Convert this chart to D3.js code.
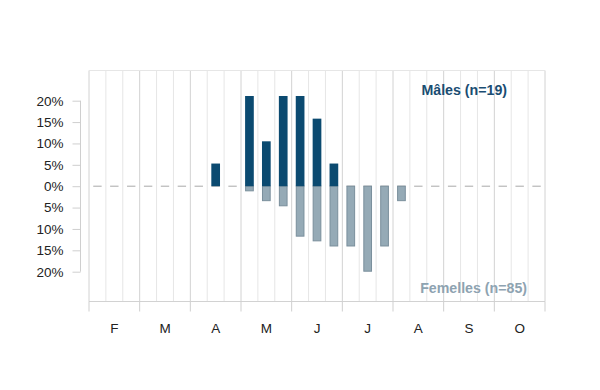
<!DOCTYPE html>
<html>
<head>
<meta charset="utf-8">
<script src="https://cdn.jsdelivr.net/npm/d3@7"></script>
<style>
  body { margin: 0; background: #fff; }
  text { font-family: "Liberation Sans", Arial, sans-serif; }
</style>
</head>
<body>
<svg id="chart" width="600" height="390"></svg>
<script>
// month labels (3 ten-day periods each)
const months = ['F', 'M', 'A', 'M', 'J', 'J', 'A', 'S', 'O'];
// % per ten-day period, Feb d1 .. Oct d3
const males = [0, 0, 0, 0, 0, 0, 0, 5.3, 0, 21.1, 10.5, 21.1, 21.1, 15.8, 5.3,
  0, 0, 0, 0, 0, 0, 0, 0, 0, 0, 0, 0];
const females = [0, 0, 0, 0, 0, 0, 0, 0, 0, 1.2, 3.5, 4.7, 11.8, 12.9, 14.1,
  14.1, 20.0, 14.1, 3.5, 0, 0, 0, 0, 0, 0, 0, 0];
const yTicks = [20, 15, 10, 5, 0, -5, -10, -15, -20];
const yTickLabels = ['20%', '15%', '10%', '5%', '0%', '5%', '10%', '15%', '20%'];

const svg = d3.select('#chart');
const plotTop = 70.5, plotBottom = 301.5;

const x = d3.scaleLinear().domain([0, males.length]).range([89, 545]);
const y = d3.scaleLinear().domain([-20, 20]).range([271.7, 100.7]);
const barW = 8.7;

// grid
const grid = svg.append('g').attr('class', 'grid');
grid.selectAll('line.v')
  .data(d3.range(males.length + 1))
  .join('line')
  .attr('x1', d => x(d)).attr('x2', d => x(d))
  .attr('y1', plotTop).attr('y2', plotBottom)
  .attr('stroke', d => d % 3 === 0 ? '#d2d2d2' : '#e6e6e6')
  .attr('stroke-width', 1);
grid.append('line')
  .attr('x1', x(0)).attr('x2', x(males.length))
  .attr('y1', plotTop).attr('y2', plotTop)
  .attr('stroke', '#e6e6e6');
grid.append('line')
  .attr('x1', x(0)).attr('x2', x(males.length))
  .attr('y1', plotBottom).attr('y2', plotBottom)
  .attr('stroke', '#d2d2d2');

// month ticks below the plot
const mTicks = svg.append('g').attr('class', 'axis--x');
mTicks.selectAll('line')
  .data(d3.range(months.length + 1))
  .join('line')
  .attr('x1', d => x(d * 3)).attr('x2', d => x(d * 3))
  .attr('y1', plotBottom).attr('y2', 311.5)
  .attr('stroke', '#cfcfcf');
mTicks.selectAll('text')
  .data(months)
  .join('text')
  .attr('x', (d, i) => x(i * 3 + 1.5))
  .attr('y', 333)
  .attr('text-anchor', 'middle')
  .attr('font-size', 13.5)
  .attr('fill', '#222')
  .text(d => d);

// y axis
const yAxis = d3.axisLeft(y)
  .tickValues(yTicks)
  .tickSize(8)
  .tickPadding(9)
  .tickFormat((d, i) => yTickLabels[i]);
const ga = svg.append('g').attr('class', 'axis--y')
  .attr('transform', 'translate(80.5,0)')
  .call(yAxis);
ga.select('.domain').attr('stroke', '#cfcfcf').attr('d', `M0,${y(20)}V${y(-20)}`);
ga.selectAll('.tick line').attr('stroke', '#cfcfcf');
ga.selectAll('.tick text')
  .attr('font-family', '"Liberation Sans", Arial, sans-serif')
  .attr('font-size', 13.5)
  .attr('fill', '#222');

// zero dashes
svg.append('g').selectAll('line')
  .data(d3.range(males.length))
  .join('line')
  .attr('x1', d => x(d + 0.5) - 4.2).attr('x2', d => x(d + 0.5) + 4.2)
  .attr('y1', y(0)).attr('y2', y(0))
  .attr('stroke', '#a8a8a8');

// females (down)
svg.append('g').selectAll('rect')
  .data(females.map((v, i) => ({ v, i })).filter(d => d.v > 0))
  .join('rect')
  .attr('x', d => x(d.i + 0.5) - barW / 2 + 0.5)
  .attr('width', barW - 1)
  .attr('y', y(0))
  .attr('height', d => y(-d.v) - y(0) - 0.5)
  .attr('fill', '#95aab6')
  .attr('stroke', '#7a8f9c')
  .attr('stroke-width', 1);

// males (up)
svg.append('g').selectAll('rect')
  .data(males.map((v, i) => ({ v, i })).filter(d => d.v > 0))
  .join('rect')
  .attr('x', d => x(d.i + 0.5) - barW / 2)
  .attr('width', barW)
  .attr('y', d => y(d.v))
  .attr('height', d => y(0) - y(d.v))
  .attr('fill', '#0b4a70');

// series labels
svg.append('text')
  .attr('x', 507).attr('y', 94.5)
  .attr('text-anchor', 'end')
  .attr('font-size', 14.2).attr('font-weight', 'bold')
  .attr('fill', '#1a4d72')
  .text('Mâles (n=19)');
svg.append('text')
  .attr('x', 527).attr('y', 292.5)
  .attr('text-anchor', 'end')
  .attr('font-size', 14.2).attr('font-weight', 'bold')
  .attr('fill', '#8ea3b1')
  .text('Femelles (n=85)');
</script>
</body>
</html>
